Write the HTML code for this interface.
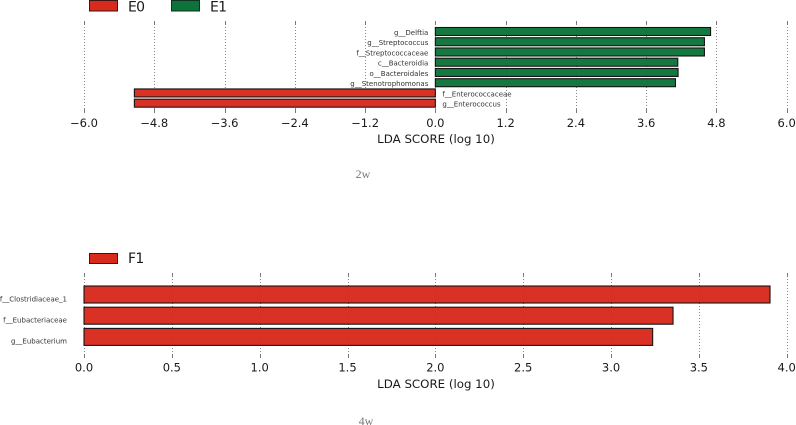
<!DOCTYPE html>
<html>
<head>
<meta charset="utf-8">
<style>
html,body{margin:0;padding:0;background:#fff;width:796px;height:425px;overflow:hidden}
svg{display:block;filter:blur(0.35px)}
text{font-family:"DejaVu Sans","Liberation Sans",sans-serif;fill:#1a1a1a}
.tick{font-size:11.5px;text-anchor:middle}
.axt{font-size:11.8px;text-anchor:middle}
.cat{font-size:7px;fill:#333}
.leg{font-size:14px;letter-spacing:-0.7px}
.cap{font-family:"Liberation Serif",serif;font-size:12px;fill:#777;text-anchor:middle}
</style>
</head>
<body>
<svg id="chart" width="796" height="425" viewBox="0 0 796 425" xmlns="http://www.w3.org/2000/svg">
  <rect x="89.5" y="0.5" width="28" height="10.5" fill="#d92a1e" stroke="#3a1512" stroke-width="1"/>
  <text class="leg" x="128" y="11.5">E0</text>
  <rect x="171.5" y="0.5" width="28" height="10.5" fill="#0c743a" stroke="#12301f" stroke-width="1"/>
  <text class="leg" x="210" y="11.5">E1</text>
  <text class="axt" x="436" y="143">LDA SCORE (log 10)</text>
  <text class="cap" x="363" y="178">2w</text>

  <rect x="89.5" y="253.5" width="28" height="10" fill="#d92a1e" stroke="#3a1512" stroke-width="1"/>
  <text class="leg" x="128" y="263">F1</text>
  <text class="axt" x="436" y="388">LDA SCORE (log 10)</text>
  <text class="cap" x="366" y="425">4w</text>
  <g id="plots"></g>
</svg>
<script>
var taxa2w = ["g__Delftia","g__Streptococcus","f__Streptococcaceae","c__Bacteroidia","o__Bacteroidales","g__Stenotrophomonas","f__Enterococcaceae","g__Enterococcus"];
var scores2w = [4.70,4.595,4.595,4.14,4.145,4.10,-5.14,-5.14];
var ticks2w = [-6.0,-4.8,-3.6,-2.4,-1.2,0.0,1.2,2.4,3.6,4.8,6.0];
var taxa4w = ["f__Clostridiaceae_1","f__Eubacteriaceae","g__Eubacterium"];
var scores4w = [3.905,3.353,3.237];
var ticks4w = [0.0,0.5,1.0,1.5,2.0,2.5,3.0,3.5,4.0];

var NS = "http://www.w3.org/2000/svg";
var root = document.getElementById("plots");

function make(tag, attrs, parent) {
  var el = document.createElementNS(NS, tag);
  for (var k in attrs) el.setAttribute(k, attrs[k]);
  parent.appendChild(el);
  return el;
}

function drawPlot(opts) {
  var g = make("g", {}, root);
  
  

  function xAxis(v) {
    return opts.left + (v - opts.min) / (opts.max - opts.min) * (opts.right - opts.left);
  }
  function yBand(i) {
    return opts.barTop + i * opts.step;
  }

  opts.ticks.forEach(function (t) {
    var x = Math.round(xAxis(t)) + 0.5;
    var line = make("line", {x1:x, x2:x, y1:opts.top, y2:opts.bottom, stroke:"#888", "stroke-width":1, "stroke-dasharray":"1 2"}, g);
    
    
    var tickA = make("line", {x1:x, x2:x, y1:opts.top, y2:opts.top + 4, stroke:"#777", "stroke-width":1}, g);
    
    
    var tickB = make("line", {x1:x, x2:x, y1:opts.bottom - 4, y2:opts.bottom, stroke:"#777", "stroke-width":1}, g);
    
    
    var label = make("text", {"class":"tick", x:xAxis(t), y:opts.tickY}, g);
    label.textContent = t.toFixed(1).replace("-", "\u2212");
    
    
  });

  opts.values.forEach(function (v, i) {
    var x0 = xAxis(0), x1 = xAxis(v), y = yBand(i);
    var positive = v >= 0;
    var color = positive ? opts.posColor : opts.negColor;
    var bar = make("rect", {
      x: Math.min(x0, x1), y: y,
      width: Math.abs(x1 - x0), height: opts.barH,
      fill: color, "fill-opacity": 0.97, stroke: "#141414", "stroke-width": 1.1
    }, g);
    
    
    var label = make("text", {
      "class": "cat",
      x: positive ? x0 - opts.labelGap : x0 + opts.labelGap,
      y: y + opts.barH / 2 + opts.labelDy,
      "text-anchor": positive ? "end" : "start"
    }, g);
    label.textContent = opts.names[i];
    
    
  });
}

drawPlot({
  id: "2w", names: taxa2w, values: scores2w, ticks: ticks2w,
  min: -6, max: 6, left: 84, right: 786.7,
  top: 21, bottom: 113, tickY: 127,
  barTop: 27.5, step: 10.24, barH: 8,
  labelGap: 7, labelDy: 3.4,
  posColor: "#0c743a", negColor: "#d92a1e"
});
drawPlot({
  id: "4w", names: taxa4w, values: scores4w, ticks: ticks4w,
  min: 0, max: 4, left: 84, right: 786.7,
  top: 273, bottom: 358, tickY: 371.6,
  barTop: 286, step: 21.2, barH: 17,
  labelGap: 17, labelDy: 6.8,
  posColor: "#d92a1e", negColor: "#d92a1e"
});
</script>
</body>
</html>
